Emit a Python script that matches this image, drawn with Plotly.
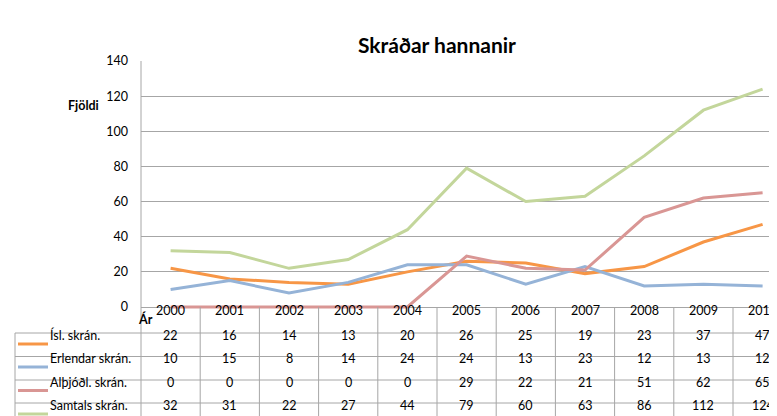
import plotly.graph_objects as go

years = ["2000", "2001", "2002", "2003", "2004", "2005", "2006", "2007", "2008", "2009", "2010"]
series_names = ["Ísl. skrán.", "Erlendar skrán.", "Alþjóðl. skrán.", "Samtals skrán."]
isl = [22, 16, 14, 13, 20, 26, 25, 19, 23, 37, 47]
erlendar = [10, 15, 8, 14, 24, 24, 13, 23, 12, 13, 12]
althjodl = [0, 0, 0, 0, 0, 29, 22, 21, 51, 62, 65]
samtals = [32, 31, 22, 27, 44, 79, 60, 63, 86, 112, 124]
colors = ["#F79646", "#95B3D7", "#D99694", "#C3D69B"]

W, H = 777, 416
L, T, B = 133, 53, 114
plot_h = H - T - B
plot_w = W - L
col_w = 59.2
bottom_px = H - B
zero_px = 299
FONT = "Lato, Calibri, sans-serif"
grid = "#A6A6A6"
fs = 12.5


def py(p):  # pixel row -> paper y
    return (bottom_px - p) / plot_h


def px(p):  # pixel column -> paper x
    return (p - L) / plot_w


idx = list(range(len(years)))
fig = go.Figure()
for name, vals, c in zip(series_names, [isl, erlendar, althjodl, samtals], colors):
    fig.add_trace(go.Scatter(x=idx, y=vals, mode="lines", name=name,
                             line=dict(color=c, width=3), showlegend=False))

shapes = []
annotations = []

# table grid
row_lines = [325, 348.5, 372, 395, 418]
for r in row_lines:
    shapes.append(dict(type="line", xref="paper", yref="paper", x0=px(7), x1=1.02,
                       y0=py(r), y1=py(r), line=dict(color=grid, width=1)))
shapes.append(dict(type="line", xref="paper", yref="paper", x0=px(7), x1=px(7),
                   y0=py(325), y1=py(420), line=dict(color=grid, width=1)))
shapes.append(dict(type="line", xref="paper", yref="paper", x0=0, x1=0,
                   y0=1, y1=py(420), line=dict(color=grid, width=1)))
for i in idx:
    shapes.append(dict(type="line", xref="x", yref="paper", x0=i + 0.5, x1=i + 0.5,
                       y0=py(zero_px), y1=py(420), line=dict(color=grid, width=1)))

# header years
for i, yr in enumerate(years):
    annotations.append(dict(x=i, y=py(312), xref="x", yref="paper", text=yr,
                            showarrow=False, font=dict(size=fs, color="#000")))

# rows
row_centers = [337, 360, 383.5, 407]
for name, vals, c, yc in zip(series_names, [isl, erlendar, althjodl, samtals], colors, row_centers):
    shapes.append(dict(type="line", xref="paper", yref="paper", x0=px(10), x1=px(40),
                       y0=py(yc - 1), y1=py(yc - 1), line=dict(color=c, width=3)))
    annotations.append(dict(x=px(40), y=py(yc), xref="paper", yref="paper", text=name,
                            xanchor="left", showarrow=False, font=dict(size=fs, color="#000")))
    for i, v in enumerate(vals):
        annotations.append(dict(x=i, y=py(yc), xref="x", yref="paper", text=str(v),
                                showarrow=False, font=dict(size=fs, color="#000")))

annotations.append(dict(x=px(429), y=py(22), xref="paper", yref="paper",
                        text="<b>Skráðar hannanir</b>", showarrow=False,
                        font=dict(size=21, color="#000")))
annotations.append(dict(x=px(93), y=py(88), xref="paper", yref="paper", xanchor="right",
                        text="<b>Fjöldi</b>", showarrow=False, font=dict(size=12.5, color="#000")))
annotations.append(dict(x=px(147), y=py(321), xref="paper", yref="paper", xanchor="right",
                        text="<b>Ár</b>", showarrow=False, font=dict(size=12.5, color="#000")))

y_lo = -(bottom_px - zero_px) * 140 / (zero_px - T)

fig.update_layout(
    width=W, height=H,
    margin=dict(l=L, r=0, t=T, b=B),
    paper_bgcolor="white", plot_bgcolor="white",
    font=dict(family=FONT, color="#000"),
    xaxis=dict(range=[-0.5, -0.5 + plot_w / col_w], showticklabels=False,
               showgrid=False, zeroline=False, showline=False),
    yaxis=dict(range=[y_lo, 140], tickvals=[0, 20, 40, 60, 80, 100, 120, 140],
               showgrid=True, gridcolor=grid, gridwidth=1, zeroline=True,
               zerolinecolor=grid, zerolinewidth=1, showline=False,
               ticks="", ticklabelstandoff=12, tickfont=dict(size=12.5, color="#000")),
    shapes=shapes,
    annotations=annotations,
)

fig.write_html("out.html")
